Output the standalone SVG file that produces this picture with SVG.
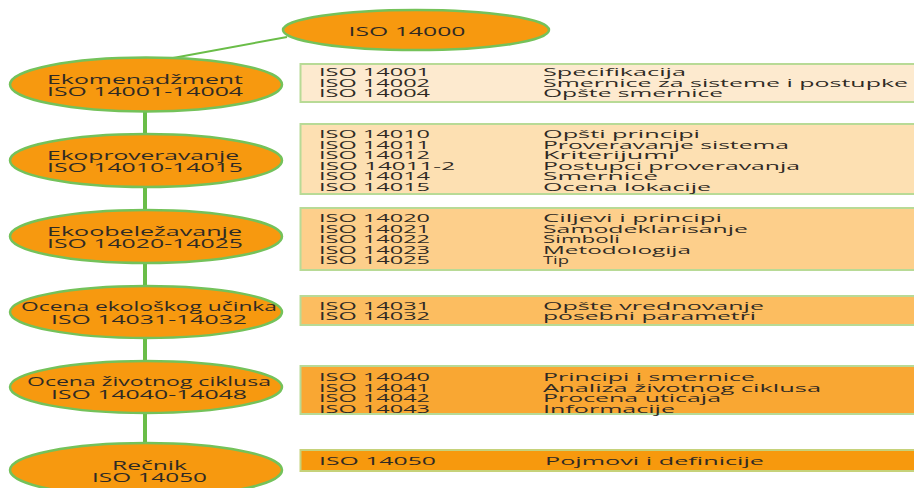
<svg xmlns="http://www.w3.org/2000/svg" width="914" height="488" viewBox="0 0 914 488">
<style>
.ell{fill:#f7990f;stroke:#74c25a;stroke-width:2.5}
.box{stroke:#b8da96;stroke-width:2}
.et{font-family:"Open Sans","DejaVu Sans",sans-serif;font-size:13px;fill:#2f2a24;text-anchor:middle}
.bt{font-family:"Open Sans","DejaVu Sans",sans-serif;font-size:11.5px;fill:#2f2a24}
.con{stroke:#6abd48;fill:none}
</style>
<rect width="914" height="488" fill="#ffffff"/>
<g id="connectors">
<line class="con" x1="287" y1="37" x2="173" y2="58" stroke-width="2"/>
<line class="con" x1="145" y1="100" x2="145" y2="450" stroke-width="4"/>
</g>
<g id="root">
<ellipse class="ell" cx="416" cy="30" rx="133" ry="20"/>
<text class="et" x="407" y="36" textLength="117" lengthAdjust="spacingAndGlyphs">ISO 14000</text>
</g>
<g id="n1">
<ellipse class="ell" cx="146" cy="84.5" rx="136" ry="27"/>
<text class="et" x="145" y="83.5" textLength="196" lengthAdjust="spacingAndGlyphs">Ekomenadžment</text>
<text class="et" x="145" y="96" textLength="196" lengthAdjust="spacingAndGlyphs">ISO 14001-14004</text>
</g>
<g id="n2">
<ellipse class="ell" cx="146" cy="160.5" rx="136" ry="26.5"/>
<text class="et" x="143" y="159.5" textLength="192" lengthAdjust="spacingAndGlyphs">Ekoproveravanje</text>
<text class="et" x="145" y="172" textLength="196" lengthAdjust="spacingAndGlyphs">ISO 14010-14015</text>
</g>
<g id="n3">
<ellipse class="ell" cx="146" cy="236.5" rx="136" ry="26.5"/>
<text class="et" x="144.5" y="235.5" textLength="195" lengthAdjust="spacingAndGlyphs">Ekoobeležavanje</text>
<text class="et" x="145" y="248" textLength="196" lengthAdjust="spacingAndGlyphs">ISO 14020-14025</text>
</g>
<g id="n4">
<ellipse class="ell" cx="146" cy="312" rx="136" ry="26"/>
<text class="et" x="149" y="311" textLength="256" lengthAdjust="spacingAndGlyphs">Ocena ekološkog učinka</text>
<text class="et" x="149" y="323.5" textLength="196" lengthAdjust="spacingAndGlyphs">ISO 14031-14032</text>
</g>
<g id="n5">
<ellipse class="ell" cx="146" cy="387" rx="136" ry="26"/>
<text class="et" x="149" y="386" textLength="244" lengthAdjust="spacingAndGlyphs">Ocena životnog ciklusa</text>
<text class="et" x="149" y="398.5" textLength="196" lengthAdjust="spacingAndGlyphs">ISO 14040-14048</text>
</g>
<g id="n6">
<ellipse class="ell" cx="146" cy="470" rx="136" ry="27"/>
<text class="et" x="149.5" y="469.5" textLength="75" lengthAdjust="spacingAndGlyphs">Rečnik</text>
<text class="et" x="149.5" y="482" textLength="115" lengthAdjust="spacingAndGlyphs">ISO 14050</text>
</g>
<g id="b1">
<rect class="box" x="300.5" y="64" width="620" height="38" fill="#fdeacf"/>
<text class="bt" x="319" y="76" textLength="111" lengthAdjust="spacingAndGlyphs">ISO 14001</text>
<text class="bt" x="319" y="86.5" textLength="111" lengthAdjust="spacingAndGlyphs">ISO 14002</text>
<text class="bt" x="319" y="97" textLength="111" lengthAdjust="spacingAndGlyphs">ISO 14004</text>
<text class="bt" x="543" y="76" textLength="143" lengthAdjust="spacingAndGlyphs">Specifikacija</text>
<text class="bt" x="543" y="86.5" textLength="365" lengthAdjust="spacingAndGlyphs">Smernice za sisteme i postupke</text>
<text class="bt" x="543" y="97" textLength="180" lengthAdjust="spacingAndGlyphs">Opšte smernice</text>
</g>
<g id="b2">
<rect class="box" x="300.5" y="124" width="620" height="70" fill="#fde0b2"/>
<text class="bt" x="319" y="138" textLength="111" lengthAdjust="spacingAndGlyphs">ISO 14010</text>
<text class="bt" x="319" y="148.5" textLength="111" lengthAdjust="spacingAndGlyphs">ISO 14011</text>
<text class="bt" x="319" y="159" textLength="111" lengthAdjust="spacingAndGlyphs">ISO 14012</text>
<text class="bt" x="319" y="169.5" textLength="136" lengthAdjust="spacingAndGlyphs">ISO 14011-2</text>
<text class="bt" x="319" y="180" textLength="111" lengthAdjust="spacingAndGlyphs">ISO 14014</text>
<text class="bt" x="319" y="190.5" textLength="111" lengthAdjust="spacingAndGlyphs">ISO 14015</text>
<text class="bt" x="543" y="138" textLength="157" lengthAdjust="spacingAndGlyphs">Opšti principi</text>
<text class="bt" x="543" y="148.5" textLength="246" lengthAdjust="spacingAndGlyphs">Proveravanje sistema</text>
<text class="bt" x="543" y="159" textLength="132" lengthAdjust="spacingAndGlyphs">Kriterijumi</text>
<text class="bt" x="543" y="169.5" textLength="257" lengthAdjust="spacingAndGlyphs">Postupci proveravanja</text>
<text class="bt" x="543" y="180" textLength="115" lengthAdjust="spacingAndGlyphs">Smernice</text>
<text class="bt" x="543" y="190.5" textLength="168" lengthAdjust="spacingAndGlyphs">Ocena lokacije</text>
</g>
<g id="b3">
<rect class="box" x="300.5" y="208" width="620" height="62" fill="#fdcf8b"/>
<text class="bt" x="319" y="222" textLength="111" lengthAdjust="spacingAndGlyphs">ISO 14020</text>
<text class="bt" x="319" y="232.5" textLength="111" lengthAdjust="spacingAndGlyphs">ISO 14021</text>
<text class="bt" x="319" y="243" textLength="111" lengthAdjust="spacingAndGlyphs">ISO 14022</text>
<text class="bt" x="319" y="253.5" textLength="111" lengthAdjust="spacingAndGlyphs">ISO 14023</text>
<text class="bt" x="319" y="264" textLength="111" lengthAdjust="spacingAndGlyphs">ISO 14025</text>
<text class="bt" x="543" y="222" textLength="179" lengthAdjust="spacingAndGlyphs">Ciljevi i principi</text>
<text class="bt" x="543" y="232.5" textLength="205" lengthAdjust="spacingAndGlyphs">Samodeklarisanje</text>
<text class="bt" x="543" y="243" textLength="77" lengthAdjust="spacingAndGlyphs">Simboli</text>
<text class="bt" x="543" y="253.5" textLength="148" lengthAdjust="spacingAndGlyphs">Metodologija</text>
<text class="bt" x="543" y="264" textLength="26" lengthAdjust="spacingAndGlyphs">Tip</text>
</g>
<g id="b4">
<rect class="box" x="300.5" y="296" width="620" height="29" fill="#fcbd60"/>
<text class="bt" x="319" y="309.5" textLength="111" lengthAdjust="spacingAndGlyphs">ISO 14031</text>
<text class="bt" x="319" y="320" textLength="111" lengthAdjust="spacingAndGlyphs">ISO 14032</text>
<text class="bt" x="543" y="309.5" textLength="221" lengthAdjust="spacingAndGlyphs">Opšte vrednovanje</text>
<text class="bt" x="543" y="320" textLength="213" lengthAdjust="spacingAndGlyphs">posebni parametri</text>
</g>
<g id="b5">
<rect class="box" x="300.5" y="366" width="620" height="48" fill="#f9a733"/>
<text class="bt" x="319" y="381" textLength="111" lengthAdjust="spacingAndGlyphs">ISO 14040</text>
<text class="bt" x="319" y="391.5" textLength="111" lengthAdjust="spacingAndGlyphs">ISO 14041</text>
<text class="bt" x="319" y="402" textLength="111" lengthAdjust="spacingAndGlyphs">ISO 14042</text>
<text class="bt" x="319" y="412.5" textLength="111" lengthAdjust="spacingAndGlyphs">ISO 14043</text>
<text class="bt" x="543" y="381" textLength="212" lengthAdjust="spacingAndGlyphs">Principi i smernice</text>
<text class="bt" x="543" y="391.5" textLength="278" lengthAdjust="spacingAndGlyphs">Analiza životnog ciklusa</text>
<text class="bt" x="543" y="402" textLength="178" lengthAdjust="spacingAndGlyphs">Procena uticaja</text>
<text class="bt" x="543" y="412.5" textLength="132" lengthAdjust="spacingAndGlyphs">Informacije</text>
</g>
<g id="b6">
<rect class="box" x="300.5" y="450" width="620" height="21" fill="#f7990d" style="stroke:#c6d27a"/>
<text class="bt" x="319" y="465" textLength="117" lengthAdjust="spacingAndGlyphs">ISO 14050</text>
<text class="bt" x="545" y="465" textLength="219" lengthAdjust="spacingAndGlyphs">Pojmovi i definicije</text>
</g>
</svg>
